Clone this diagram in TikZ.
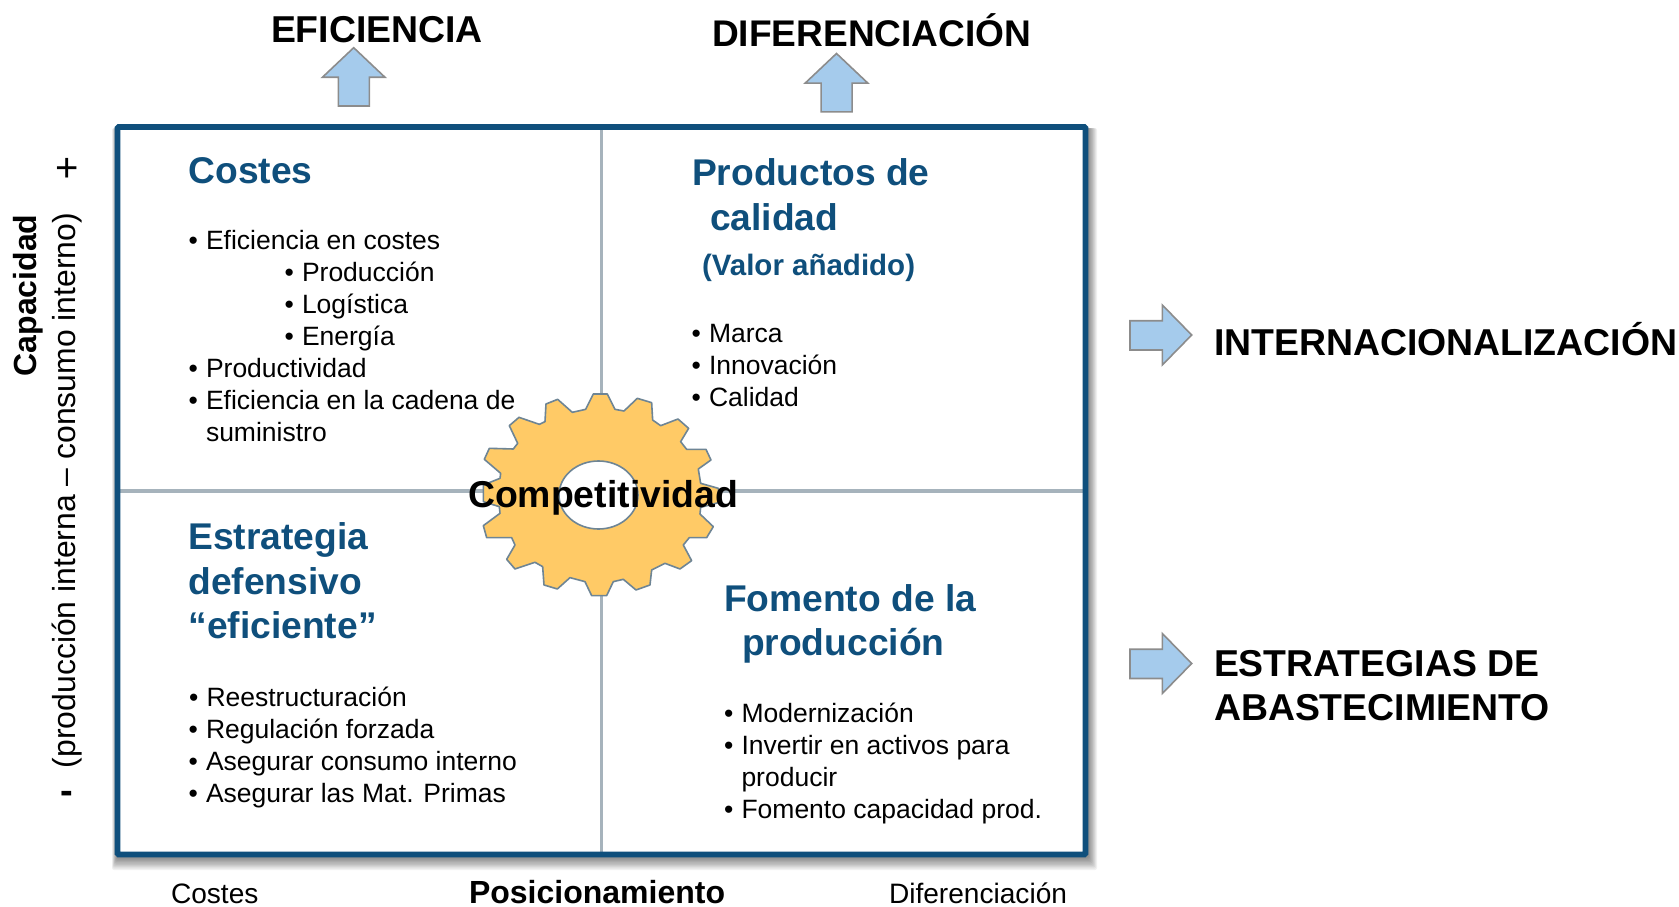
\documentclass[tikz,border=0pt]{standalone}
\usepackage{fontspec}
\setmainfont{Liberation Sans}
\definecolor{framec}{HTML}{0F4F7C}
\definecolor{linec}{HTML}{A6B3BC}
\definecolor{gearc}{HTML}{FFCA66}
\definecolor{gearl}{HTML}{6E8595}
\definecolor{arrowf}{HTML}{A5CBEC}
\definecolor{arrowl}{HTML}{8C8C8C}
\tikzset{
 x=1pt,y=-1pt,
 txt/.style={inner sep=0pt,outer sep=0pt,anchor=base west,text=black},
 body/.style={txt,font=\fontsize{26.5}{32}\selectfont},
 head/.style={txt,text=framec,font=\fontsize{37.2}{42}\bfseries\selectfont},
 sub/.style={txt,text=framec,font=\fontsize{29.5}{34}\bfseries\selectfont},
 big/.style={txt,font=\fontsize{37.4}{42}\bfseries\selectfont},
 axis/.style={txt,font=\fontsize{28.1}{32}\selectfont},
 arr/.style={fill=arrowf,draw=arrowl,line width=1.6pt,line join=miter},
 mid/.style={draw=linec,line width=3.6pt},
}
\newcommand{\uparr}[3]{\draw[arr] (#1,#2) coordinate (#3) -- ++(31.3,29.6) -- ++(-15.7,0) -- ++(0,28.7) -- ++(-31,0) -- ++(0,-28.7) -- ++(-15.9,0) -- cycle;}
\newcommand{\rtarr}[3]{\draw[arr] (#1,#2) coordinate (#3) -- ++(-29.4,30) -- ++(0,-15) -- ++(-32.3,0) -- ++(0,-29.3) -- ++(32.3,0) -- ++(0,-15.7) -- cycle;}
\begin{document}
\begin{tikzpicture}
\useasboundingbox (0,0) rectangle (1679,907);
% shadow
\foreach \i in {0,...,9}{
 \fill[black,opacity=.055,rounded corners=2pt] (112+0.5*\i,128) rectangle (1097-0.9*\i,870-1.3*\i);}
\fill[white] (120,130) rectangle (1083,852);
% mid lines
\coordinate (ft) at (601.5,127); \coordinate (fb) at (601.5,854);
\coordinate (fl) at (118,491); \coordinate (fr) at (1085,491);
\draw[mid] (ft) -- (fb);
\draw[mid] (fl) -- (fr);
% frame
\draw[draw=framec,line width=5.6pt,rounded corners=1pt] (117.5,127) rectangle (1085.5,854.5);
% gear
\begin{scope}[shift={(450,370)},x=0.3333pt,y=-0.3333pt]
\draw[fill=gearc,draw=gearl,line width=1.6pt,line join=round] (430,72)--(472,72)--(495,118)--(522,123)--(562,85)--(605,98)--(608,150)--(632,167)--(684,147)--(716,175)--(692,215)--(710,238)--(768,238)--(783,270)--(745,297)--(752,340)--(805,355)--(805,398)--(752,412)--(750,432)--(790,470)--(770,503)--(718,503)--(700,525)--(725,572)--(690,597)--(645,580)--(605,600)--(600,645)--(558,660)--(520,628)--(490,635)--(470,677)--(425,677)--(405,635)--(360,623)--(322,657)--(282,645)--(278,590)--(255,577)--(195,597)--(170,568)--(195,525)--(185,503)--(110,503)--(100,467)--(150,430)--(148,410)--(100,395)--(100,345)--(150,325)--(152,310)--(103,268)--(118,235)--(190,237)--(203,220)--(178,167)--(207,142)--(268,163)--(285,155)--(288,102)--(323,88)--(367,127)--(407,118)--cycle;
\end{scope}
\draw[fill=white,draw=gearl,line width=1.6pt] (598.5,495) ellipse [x radius=39.5,y radius=34];
\node[big] (comp) at (468,507.5) {Competitividad};
% top
\node[big] (efi) at (271,43) {EFICIENCIA};
\node[big,font=\fontsize{37.1}{42}\bfseries\selectfont] (dif) at (712,47) {DIFERENCIACIÓN};
\uparr{353.7}{47.7}{a1}
\uparr{836.5}{53.5}{a2}
% right
\rtarr{1191.7}{335}{a3}
\rtarr{1191.7}{663.5}{a4}
\node[big] (int) at (1214,355.5) {INTERNACIONALIZACIÓN};
\node[big] (est1) at (1214,676.5) {ESTRATEGIAS DE};
\node[big] (est2) at (1214,720.5) {ABASTECIMIENTO};
% Q1
\node[head] (h1) at (188.5,183) {Costes};
\foreach \n/\x/\y/\t in {
 b1/206/249.5/Eficiencia en costes,
 b2/302/281.5/Producción,
 b3/302/313.5/Logística,
 b4/302/345.5/Energía,
 b5/206/377.5/Productividad,
 b6/206/409.5/Eficiencia en la cadena de,
 c1/709/342.5/Marca,
 c2/709/374.5/Innovación,
 c3/709/406.5/Calidad,
 d1/206.5/706.5/Reestructuración,
 d2/206/738.5/Regulación forzada,
 d3/206/770.5/Asegurar consumo interno,
 d4/206/802.5/Asegurar las Mat. Primas,
 e1/741.5/722.5/Modernización,
 e2/741.5/754.5/Invertir en activos para,
 e4/741.5/818.5/Fomento capacidad prod.}{
 \node[body] (\n) at (\x,\y) {\t};
 \node[body,anchor=base east] (\n b) at (\x-8,\y) {•};
}
\node[body] (b7) at (206,441.5) {suministro};
\node[body] (e3) at (741.5,786.5) {producir};
% Q2
\node[head] (h2a) at (692,185) {Productos de};
\node[head] (h2b) at (710,230) {calidad};
\node[sub] (h2c) at (702,275) {(Valor añadido)};
% Q3
\node[head] (h3a) at (188.5,549.5) {Estrategia};
\node[head] (h3b) at (188.5,594) {defensivo};
\node[head] (h3c) at (188.5,638.5) {“eficiente”};
% Q4
\node[head] (h4a) at (724,611) {Fomento de la};
\node[head] (h4b) at (742,655) {producción};
% axes
\node[axis] (xc) at (171,903.5) {Costes};
\node[axis] (xd) at (889,903.5) {Diferenciación};
\node[txt,font=\fontsize{32}{36}\bfseries\selectfont] (xp) at (469,903.3) {Posicionamiento};
\node[txt,anchor=base,rotate=90,font=\fontsize{32}{36}\bfseries\selectfont] (yc) at (36.5,295.5) {Capacidad};
\node[txt,anchor=base,rotate=90,font=\fontsize{31.9}{36}\selectfont] (yp) at (75.5,490.5) {(producción interna – consumo interno)};
\node[txt,anchor=center,font=\fontsize{40}{44}\selectfont] (yplus) at (67,170) {+};
\node[txt,anchor=center,font=\fontsize{38}{44}\bfseries\selectfont] (yminus) at (67,797) {-};
\end{tikzpicture}
\end{document}
